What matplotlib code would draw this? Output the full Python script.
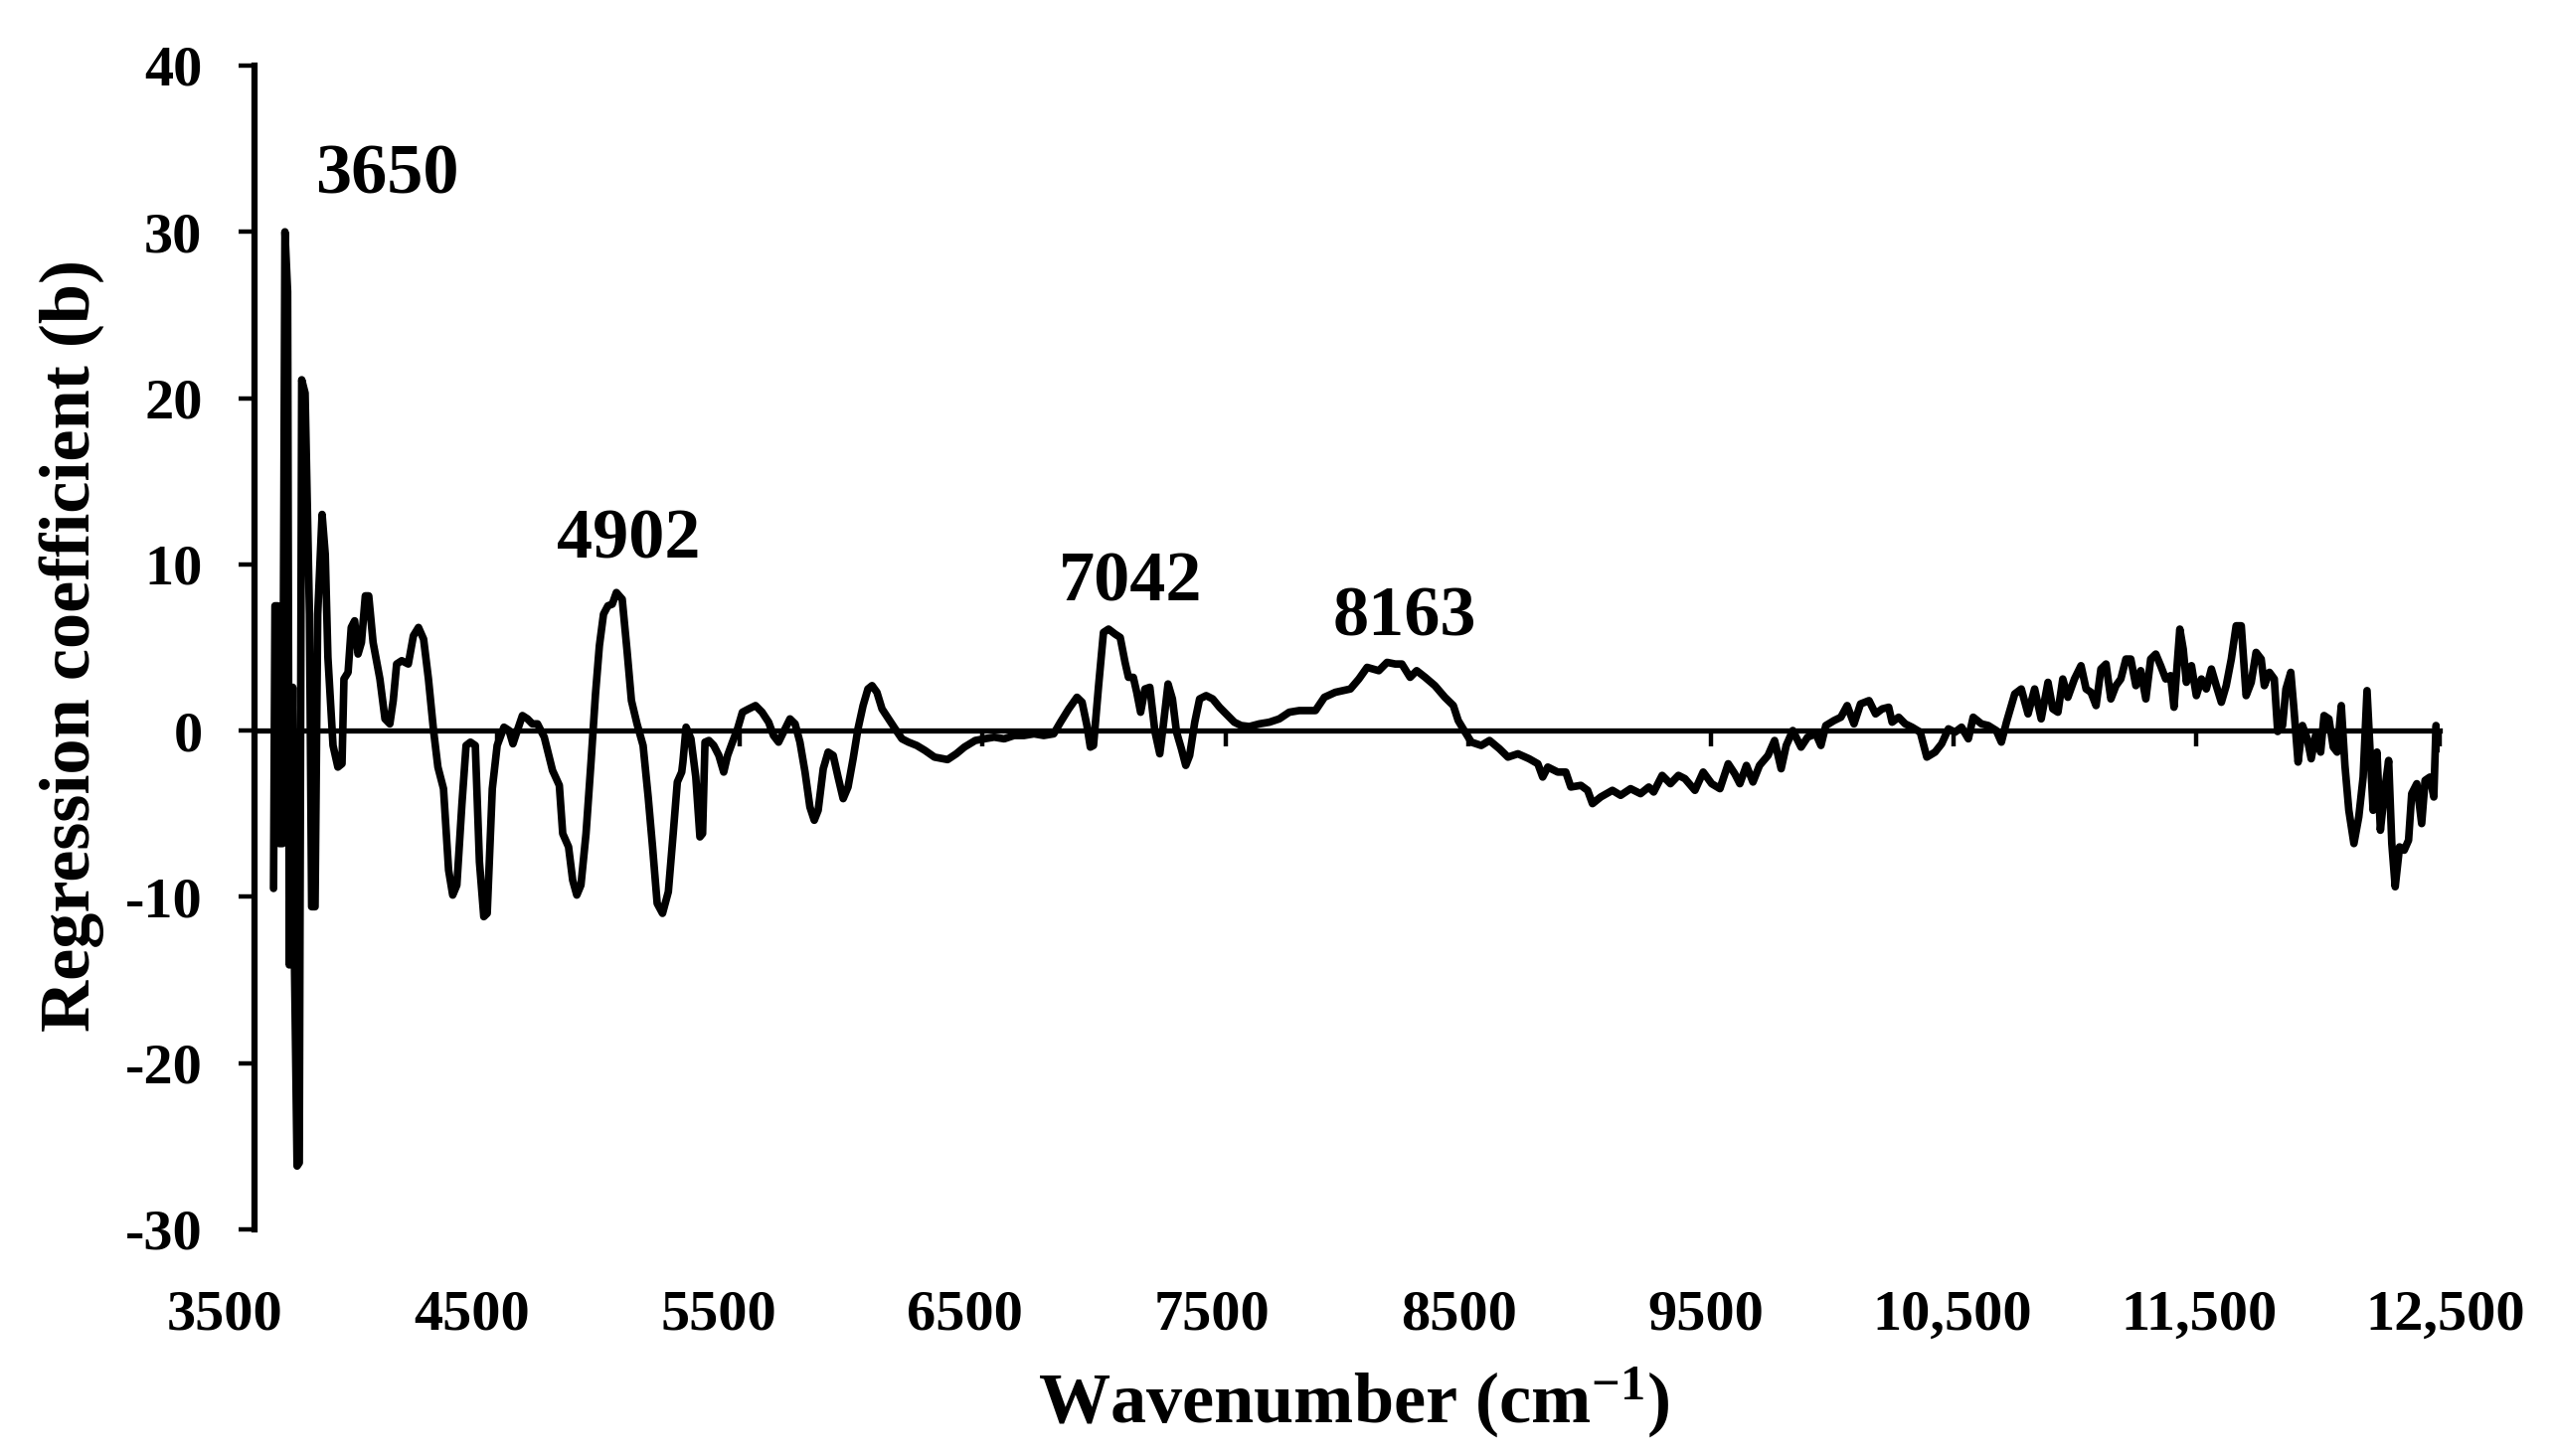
import matplotlib
matplotlib.use("Agg")
import matplotlib.pyplot as plt
from matplotlib.transforms import ScaledTranslation

plt.rcParams['font.family'] = ['Liberation Serif', 'DejaVu Serif']
plt.rcParams['font.weight'] = 'bold'
plt.rcParams['axes.unicode_minus'] = False
plt.rcParams['mathtext.fontset'] = 'custom'
plt.rcParams['mathtext.rm'] = 'Liberation Serif:bold'
plt.rcParams['mathtext.bf'] = 'Liberation Serif:bold'
plt.rcParams['mathtext.it'] = 'Liberation Serif:bold'

# ---------------- data ----------------
wavenumber = [
    3580, 3586, 3597, 3604, 3617, 3627, 3638, 3645, 3659, 3666, 3677, 3686, 3696, 3710,
    3728, 3737, 3751, 3762, 3780, 3793, 3804, 3825, 3845, 3862, 3870, 3887, 3900, 3914,
    3928, 3942, 3958, 3972, 3990, 4018, 4039, 4059, 4073, 4087, 4108, 4135, 4156, 4177,
    4198, 4218, 4239, 4257, 4280, 4301, 4318, 4335, 4356, 4373, 4391, 4411, 4428, 4446,
    4460, 4481, 4501, 4529, 4550, 4566, 4584, 4605, 4626, 4646, 4667, 4695, 4729, 4757,
    4771, 4795, 4812, 4829, 4846, 4867, 4888, 4906, 4922, 4939, 4957, 4975, 4992, 5016,
    5036, 5054, 5077, 5102, 5123, 5141, 5160, 5182, 5206, 5226, 5243, 5261, 5266, 5279,
    5299, 5319, 5336, 5347, 5357, 5373, 5393, 5414, 5434, 5450, 5470, 5491, 5511, 5537,
    5565, 5592, 5619, 5639, 5660, 5680, 5707, 5728, 5748, 5769, 5789, 5807, 5823, 5844,
    5864, 5885, 5905, 5926, 5946, 5967, 5987, 6008, 6028, 6045, 6065, 6086, 6113, 6140,
    6168, 6195, 6229, 6263, 6302, 6356, 6392, 6425, 6470, 6507, 6548, 6589, 6630, 6671,
    6712, 6752, 6793, 6821, 6855, 6889, 6910, 6930, 6944, 6957, 6978, 6998, 7019, 7046,
    7067, 7087, 7101, 7121, 7135, 7151, 7169, 7189, 7210, 7230, 7246, 7264, 7282, 7299,
    7319, 7337, 7353, 7374, 7394, 7421, 7448, 7476, 7510, 7537, 7565, 7599, 7640, 7681,
    7722, 7763, 7804, 7871, 7908, 7953, 8015, 8050, 8084, 8132, 8166, 8200, 8227, 8261,
    8288, 8323, 8363, 8404, 8439, 8459, 8486, 8513, 8554, 8588, 8629, 8664, 8705, 8751,
    8787, 8807, 8828, 8869, 8902, 8923, 8964, 8992, 9012, 9046, 9094, 9128, 9169, 9210,
    9244, 9264, 9299, 9333, 9366, 9393, 9434, 9468, 9503, 9537, 9571, 9598, 9619, 9646,
    9673, 9700, 9735, 9762, 9789, 9810, 9837, 9871, 9898, 9932, 9953, 9973, 10007, 10035,
    10061, 10089, 10116, 10151, 10178, 10205, 10232, 10246, 10273, 10300, 10328, 10362,
    10389, 10423, 10450, 10478, 10505, 10532, 10560, 10580, 10614, 10642, 10675, 10696,
    10717, 10751, 10778, 10806, 10833, 10860, 10888, 10908, 10929, 10949, 10970, 10997,
    11024, 11045, 11065, 11086, 11106, 11127, 11147, 11168, 11188, 11209, 11229, 11250,
    11270, 11291, 11311, 11332, 11352, 11373, 11393, 11407, 11431, 11445, 11458, 11479,
    11499, 11520, 11540, 11561, 11581, 11602, 11622, 11643, 11663, 11684, 11704, 11725,
    11745, 11766, 11779, 11800, 11820, 11834, 11854, 11868, 11888, 11902, 11918, 11936,
    11956, 11972, 11990, 12011, 12025, 12045, 12063, 12079, 12096, 12111, 12127, 12148,
    12168, 12186, 12202, 12216, 12227, 12243, 12257, 12273, 12291, 12304, 12318, 12336,
    12355, 12373, 12386, 12407, 12427, 12441, 12461, 12477, 12486, 12502, 12503,
]

coefficient = [
    -9.5, 7.5, 7.5, -6.8, -6.8, 30.0, 26.4, -14.1, 2.6, -13.7, -26.2, -26.0, 21.1, 20.3,
    7.0, -10.6, -10.6, 7.0, 13.0, 10.6, 4.4, -0.9, -2.2, -2.0, 3.1, 3.5, 6.2, 6.6,
    4.6, 5.3, 8.1, 8.1, 5.3, 3.1, 0.7, 0.4, 1.8, 4.0, 4.2, 4.0, 5.7, 6.2,
    5.5, 3.1, 0.0, -2.2, -3.5, -8.4, -9.9, -9.3, -4.4, -0.9, -0.7, -0.9, -7.9, -11.2,
    -11.0, -3.5, -0.9, 0.2, 0.0, -0.8, 0.0, 0.9, 0.7, 0.4, 0.4, -0.4, -2.4, -3.3,
    -6.2, -7.0, -9.0, -9.9, -9.3, -6.2, -1.8, 2.2, 5.1, 7.0, 7.5, 7.6, 8.3, 7.9,
    4.8, 1.8, 0.4, -0.9, -4.0, -7.0, -10.4, -11.0, -9.7, -6.2, -3.1, -2.5, -1.9, 0.2,
    -0.5, -2.8, -6.4, -6.2, -0.7, -0.6, -0.9, -1.5, -2.5, -1.5, -0.7, 0.1, 1.1, 1.3,
    1.5, 1.1, 0.5, -0.3, -0.7, -0.1, 0.7, 0.4, -0.7, -2.5, -4.6, -5.4, -4.8, -2.3,
    -1.3, -1.5, -2.8, -4.1, -3.4, -1.7, 0.1, 1.5, 2.5, 2.7, 2.3, 1.3, 0.7, 0.1,
    -0.5, -0.7, -0.9, -1.2, -1.6, -1.75, -1.4, -1.0, -0.6, -0.5, -0.4, -0.5, -0.3, -0.3,
    -0.2, -0.3, -0.2, 0.5, 1.3, 2.0, 1.7, 0.3, -1.0, -0.9, 2.7, 5.9, 6.1, 5.8,
    5.6, 4.1, 3.2, 3.2, 2.3, 1.1, 2.5, 2.6, -0.06, -1.4, 0.5, 2.8, 1.9, -0.1,
    -1.1, -2.1, -1.5, 0.5, 1.9, 2.1, 1.9, 1.4, 0.9, 0.5, 0.3, 0.24, 0.4, 0.5,
    0.7, 1.1, 1.2, 1.2, 2.0, 2.3, 2.5, 3.1, 3.8, 3.6, 4.1, 4.0, 4.0, 3.2,
    3.6, 3.2, 2.7, 2.0, 1.5, 0.6, -0.06, -0.7, -0.9, -0.6, -1.1, -1.6, -1.4, -1.7,
    -2.0, -2.8, -2.2, -2.5, -2.5, -3.4, -3.3, -3.6, -4.4, -4.0, -3.6, -3.9, -3.5, -3.8,
    -3.4, -3.7, -2.7, -3.2, -2.7, -2.9, -3.6, -2.5, -3.2, -3.5, -2.0, -2.6, -3.2, -2.1,
    -3.1, -2.1, -1.5, -0.6, -2.3, -0.9, 0.0, -1.0, -0.4, -0.2, -0.9, 0.3, 0.6, 0.8,
    1.5, 0.4, 1.6, 1.8, 1.0, 1.3, 1.4, 0.5, 0.8, 0.4, 0.2, -0.1,
    -1.6, -1.3, -0.8, 0.1, -0.1, 0.2, -0.5, 0.8, 0.4, 0.3, 0.0, -0.7,
    0.5, 2.2, 2.5, 1.0, 2.5, 0.7, 2.9, 1.3, 1.1, 3.1, 2.0, 3.1,
    3.9, 2.5, 2.3, 1.5, 3.7, 4.0, 1.9, 2.7, 3.1, 4.3, 4.3, 2.7,
    3.6, 1.9, 4.3, 4.6, 3.9, 3.1, 3.3, 1.4, 6.1, 4.9, 2.9, 3.9,
    2.1, 3.1, 2.5, 3.7, 2.7, 1.7, 2.7, 4.3, 6.3, 6.3, 2.1, 2.9,
    4.7, 4.3, 2.7, 3.5, 3.1, -0.06, 0.3, 2.5, 3.5, 1.1, -1.9, 0.3,
    -0.5, -1.7, -0.3, -1.3, 0.9, 0.7, -1.0, -1.3, 1.5, -2.1, -4.8, -6.8,
    -5.2, -2.8, 2.4, -1.7, -4.8, -1.3, -6.0, -3.8, -1.8, -6.8, -9.4, -7.0,
    -7.2, -6.6, -3.8, -3.2, -5.6, -3.0, -2.8, -4.0, 0.3, -0.3, -1.1,
]

x_ticks = [3500, 4500, 5500, 6500, 7500, 8500, 9500, 10500, 11500, 12500]
x_tick_labels = ['3500', '4500', '5500', '6500', '7500', '8500', '9500',
                 '10,500', '11,500', '12,500']
y_ticks = [-30, -20, -10, 0, 10, 20, 30, 40]

peak_labels = ['3650', '4902', '7042', '8163']
peak_label_x = [4046, 5043, 7110, 8239]
peak_label_y = [32.3, 10.35, 7.78, 5.69]

# ---------------- figure ----------------
W, H = 2572, 1465
fig = plt.figure(figsize=(W / 100, H / 100), dpi=100)
ax = fig.add_axes([255.6 / W, 1 - 1236.8 / H, (2453.7 - 255.6) / W, (1236.8 - 66) / H])

ax.plot(wavenumber, coefficient, color='black', lw=5.5,
        solid_joinstyle='round', solid_capstyle='round', zorder=3)

ax.set_xlim(3500, 12500)
ax.set_ylim(-30, 40)

for s in ['top', 'right', 'bottom']:
    ax.spines[s].set_visible(False)
ax.spines['left'].set_linewidth(4.5)

ax.set_yticks(y_ticks)
ax.set_yticklabels([str(v) for v in y_ticks])
ax.tick_params(axis='y', direction='out', length=11.5, width=3.2, pad=26,
               labelsize=42)

ax.set_xticks(x_ticks)
ax.set_xticklabels(x_tick_labels)
ax.tick_params(axis='x', length=0, pad=44, labelsize=42)
for k, lab in enumerate(ax.get_xticklabels()):
    off = (-29.6 + 4.0 * k) / 100.0
    lab.set_transform(lab.get_transform() + ScaledTranslation(off, 0, fig.dpi_scale_trans))

# zero line with downward tick marks
sec = ax.secondary_xaxis(30 / 70)
sec.set_xticks(x_ticks)
sec.tick_params(axis='x', direction='out', length=11.5, width=3.2, labelbottom=False,
                labeltop=False)
for s in ['top', 'bottom']:
    sec.spines[s].set_linewidth(3.8)

for txt, px, py in zip(peak_labels, peak_label_x, peak_label_y):
    ax.text(px, py, txt, fontsize=52, fontweight='bold', ha='center', va='baseline')

fig.text(72 / W, 1 - 650 / H, 'Regression coefficient (b)', rotation=90,
         fontsize=52, fontweight='bold', ha='center', va='center')
fig.text(1362 / W, 1 - 1431 / H, r'Wavenumber (cm$^{\mathbf{-1}}$)',
         fontsize=52, fontweight='bold', ha='center', va='baseline')

fig.savefig('out.png', dpi=100)
